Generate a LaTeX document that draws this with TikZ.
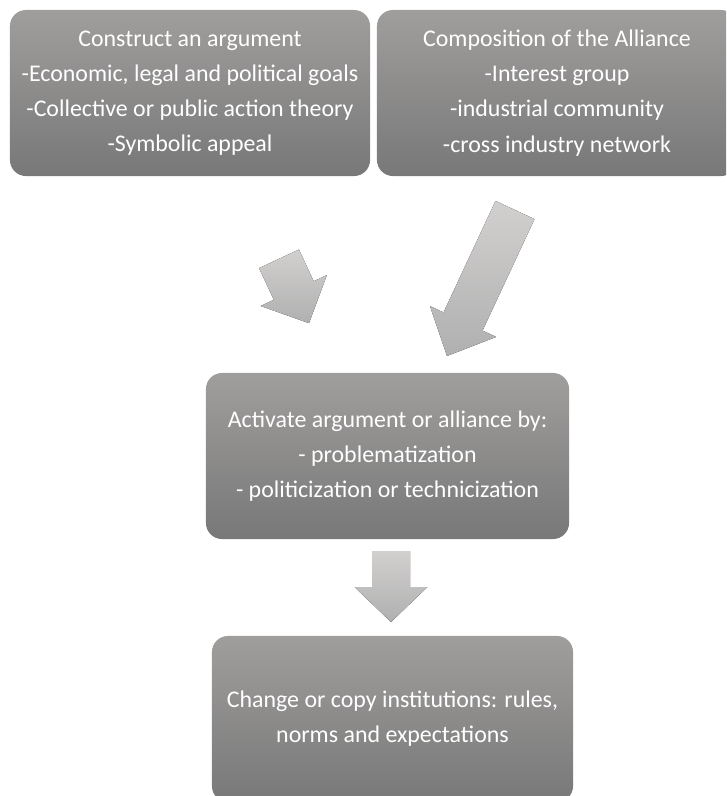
\documentclass[tikz,border=0pt]{standalone}
\usepackage{fontspec}
\setmainfont{Carlito}
\definecolor{boxtop}{RGB}{160,158,157}
\definecolor{boxbot}{RGB}{120,120,120}
\definecolor{arrtop}{RGB}{210,208,207}
\definecolor{arrbot}{RGB}{176,176,176}
\begin{document}
\begin{tikzpicture}[x=0.025cm,y=-0.025cm,
    blk/.style={rectangle,rounded corners=0.4cm,top color=boxtop,bottom color=boxbot,
      text=white,align=center,inner sep=0pt,minimum width=9cm,minimum height=4.15cm,
      font=\fontsize{17}{25}\selectfont},
    blkarrow/.style={top color=arrtop,bottom color=arrbot}]
    \useasboundingbox (0,0) rectangle (726,796);
    \clip (0,0) rectangle (726,796);
    % boxes
    \node [blk] (argument) at (190,93) {Construct an argument\\-Economic, legal and political goals\\-Collective or public action theory\\-Symbolic appeal};
    \node [blk] (alliance) at (557,93) {Composition of the Alliance\\-Interest group\\-industrial community\\-cross industry network};
    \node [blk,minimum width=9.075cm] (activate) at (387.5,456) {Activate argument or alliance by:\\- problematization\\- politicization or technicization};
    \node [blk,minimum width=9.025cm] (change) at (392.5,719) {Change or copy institutions: rules,\\norms and expectations};
    % arrows
    \begin{scope}[shift={(294,291)},rotate=-65]
      \fill [blkarrow] (-35.5,-22) -- (-0.5,-22) -- (-0.5,-36.5) -- (35.5,0) -- (-0.5,36.5) -- (-0.5,22) -- (-35.5,22) -- cycle;
    \end{scope}
    \begin{scope}[shift={(481,283)},rotate=-115]
      \fill [blkarrow] (-80.5,-21.5) -- (42.5,-21.5) -- (42.5,-36.5) -- (80.5,0) -- (42.5,36.5) -- (42.5,21.5) -- (-80.5,21.5) -- cycle;
    \end{scope}
    \begin{scope}[shift={(391,586.5)},rotate=-90]
      \fill [blkarrow] (-35.5,-19) -- (0.5,-19) -- (0.5,-36.5) -- (35.5,0) -- (0.5,36.5) -- (0.5,19) -- (-35.5,19) -- cycle;
    \end{scope}
\end{tikzpicture}
\end{document}
